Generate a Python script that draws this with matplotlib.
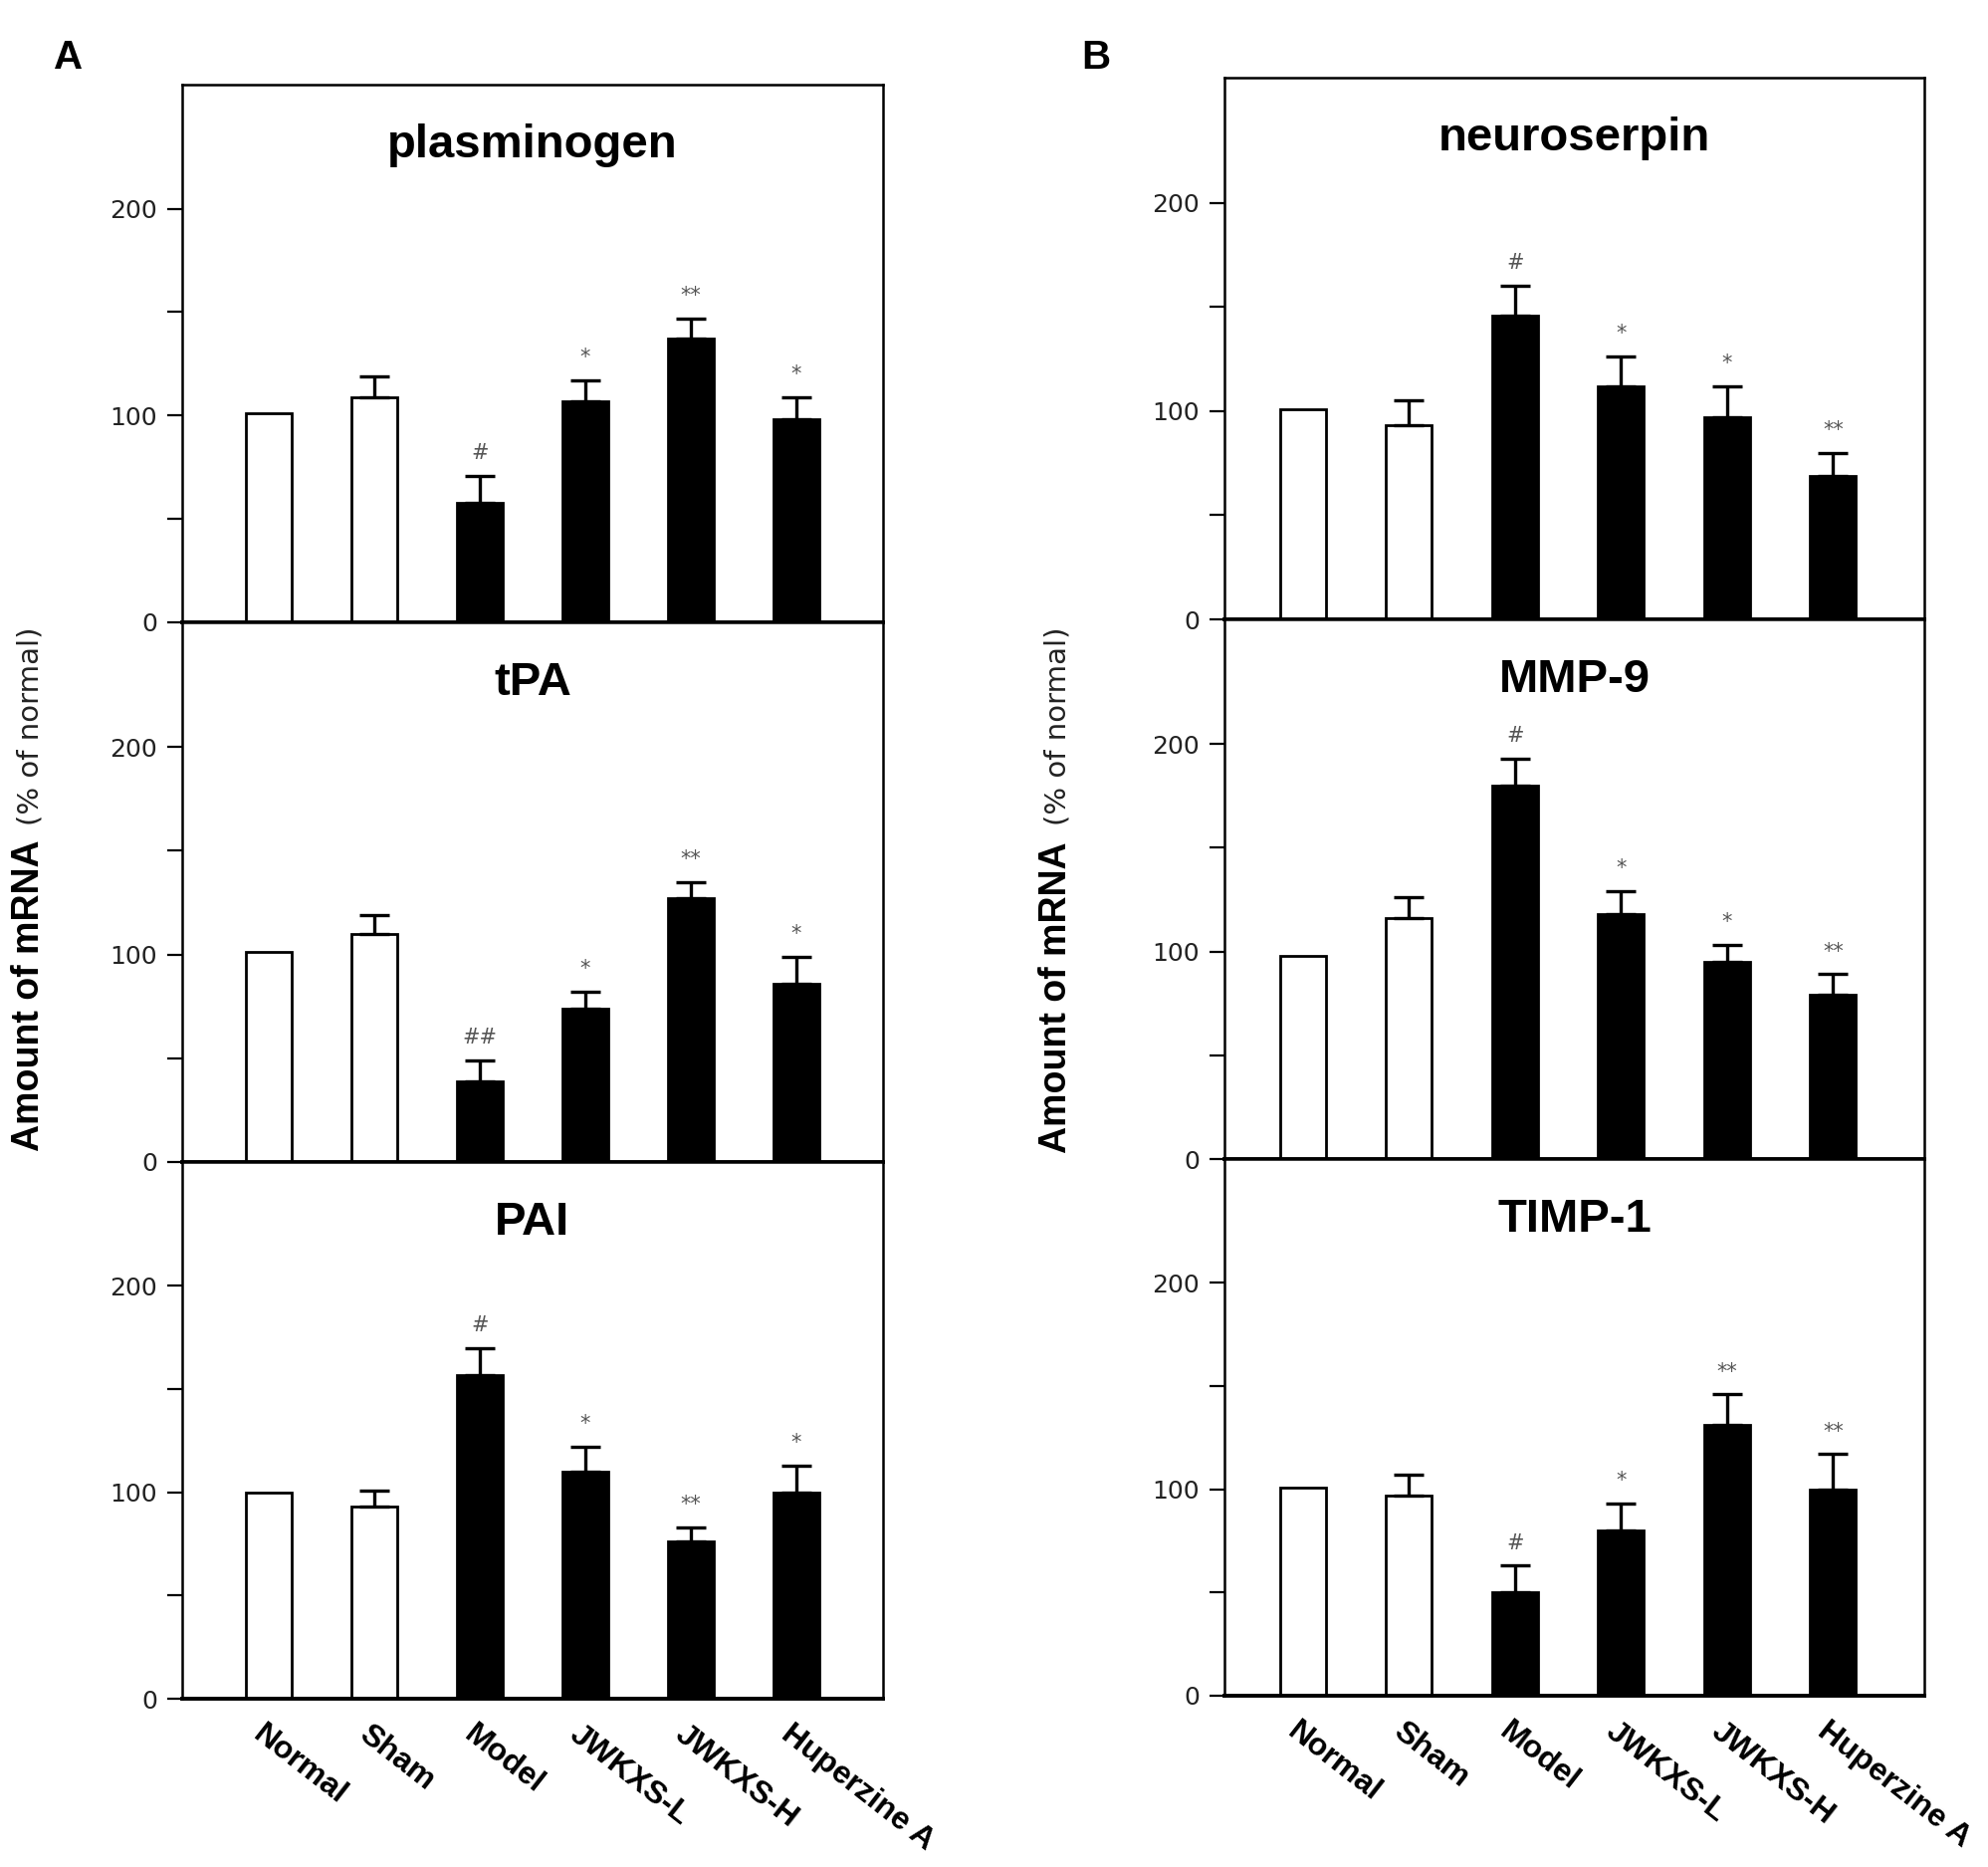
import matplotlib
matplotlib.use("Agg")
import matplotlib.pyplot as plt
from matplotlib.transforms import ScaledTranslation
import numpy as np

# ---------------- data ----------------
groups = ["Normal", "Sham", "Model", "JWKXS-L", "JWKXS-H", "Huperzine A"]
bar_colors = ["white", "white", "black", "black", "black", "black"]

plasminogen_mean = [101, 109, 58, 107, 137, 98]
plasminogen_err = [0, 10, 13, 10, 10, 11]
plasminogen_sig = ["", "", "#", "*", "**", "*"]

tpa_mean = [101, 110, 39, 74, 127, 86]
tpa_err = [0, 9, 10, 8, 8, 13]
tpa_sig = ["", "", "##", "*", "**", "*"]

pai_mean = [100, 93, 157, 110, 76, 100]
pai_err = [0, 8, 13, 12, 7, 13]
pai_sig = ["", "", "#", "*", "**", "*"]

neuroserpin_mean = [101, 93, 146, 112, 97, 69]
neuroserpin_err = [0, 12, 14, 14, 15, 11]
neuroserpin_sig = ["", "", "#", "*", "*", "**"]

mmp9_mean = [98, 116, 180, 118, 95, 79]
mmp9_err = [0, 10, 13, 11, 8, 10]
mmp9_sig = ["", "", "#", "*", "*", "**"]

timp1_mean = [101, 97, 50, 80, 131, 100]
timp1_err = [0, 10, 13, 13, 15, 17]
timp1_sig = ["", "", "#", "*", "**", "**"]

y_major = [0, 100, 200]
y_minor = [50, 150]
y_max = 260

panels_A = [("plasminogen", plasminogen_mean, plasminogen_err, plasminogen_sig),
            ("tPA", tpa_mean, tpa_err, tpa_sig),
            ("PAI", pai_mean, pai_err, pai_sig)]
panels_B = [("neuroserpin", neuroserpin_mean, neuroserpin_err, neuroserpin_sig),
            ("MMP-9", mmp9_mean, mmp9_err, mmp9_sig),
            ("TIMP-1", timp1_mean, timp1_err, timp1_sig)]

# ---------------- layout ----------------
W, H = 1997, 1875
fig = plt.figure(figsize=(W / 100, H / 100), dpi=100)
fig.patch.set_facecolor("white")

col_specs = [
    (183, 887, [85, 625, 1167, 1706], (-0.82, 5.82), panels_A),
    (1230, 1933, [78, 622, 1164, 1703], (-0.74, 5.86), panels_B),
]

for left, right, rows, xlim, panels in col_specs:
    for i, (title, mean, err, sig) in enumerate(panels):
        top_px, bot_px = rows[i], rows[i + 1]
        ax = fig.add_axes([left / W, 1 - bot_px / H, (right - left) / W, (bot_px - top_px) / H])
        x = np.arange(len(groups))
        ax.bar(x, mean, width=0.43, color=bar_colors, edgecolor="black",
               linewidth=2.0, zorder=2)
        idx = [j for j in range(len(groups)) if err[j] > 0]
        ax.errorbar(x[idx], np.array(mean)[idx], yerr=[np.zeros(len(idx)), np.array(err)[idx]],
                    fmt="none", ecolor="black", elinewidth=2.4, capsize=11,
                    capthick=2.4, zorder=3)
        for j in range(len(groups)):
            if sig[j]:
                ax.text(x[j], mean[j] + err[j] + 11, sig[j], ha="center", va="center",
                        fontsize=15, color="#555555", family="DejaVu Sans")
        ax.set_xlim(*xlim)
        ax.set_ylim(0, y_max)
        ax.set_yticks(y_major)
        ax.set_yticks(y_minor, minor=True)
        ax.tick_params(axis="y", which="both", direction="out", length=11, width=1.6,
                       pad=7, labelsize=18, labelcolor="#222222")
        for lbl in ax.get_yticklabels():
            lbl.set_family("DejaVu Sans")
        for s in ax.spines.values():
            s.set_linewidth(1.8)
        ax.spines["bottom"].set_linewidth(2.8)
        ax.text(0.5, 0.865, title, transform=ax.transAxes, ha="center", va="baseline",
                fontsize=34, fontweight="bold", family="Liberation Sans")
        if i == 2:
            ax.set_xticks(x)
            ax.set_xticklabels(groups, fontsize=23, fontweight="bold",
                               family="Liberation Sans", rotation=-38)
            ax.tick_params(axis="x", length=0, pad=15)
            off = ScaledTranslation(-0.03, 0, fig.dpi_scale_trans)
            for lbl in ax.get_xticklabels():
                lbl.set_ha("left")
                lbl.set_rotation_mode("anchor")
                lbl.set_transform(lbl.get_transform() + off)
        else:
            ax.set_xticks([])

# y-axis labels
for bx, y_amount, y_pct in [(39, 1000, 729), (1071, 1002, 729)]:
    fig.text(bx / W, 1 - y_amount / H, "Amount of mRNA", rotation=90,
             rotation_mode="anchor", ha="center", va="baseline",
             fontsize=27, fontweight="bold", family="Liberation Sans")
    fig.text(bx / W, 1 - y_pct / H, "(% of normal)", rotation=90,
             rotation_mode="anchor", ha="center", va="baseline",
             fontsize=21, family="DejaVu Sans", color="#222222")

# panel letters
fig.text(54 / W, 1 - 69 / H, "A", fontsize=29, fontweight="bold",
         family="Liberation Sans", ha="left", va="baseline")
fig.text(1086 / W, 1 - 69 / H, "B", fontsize=29, fontweight="bold",
         family="Liberation Sans", ha="left", va="baseline")

fig.savefig("out.png", dpi=100, facecolor="white")
